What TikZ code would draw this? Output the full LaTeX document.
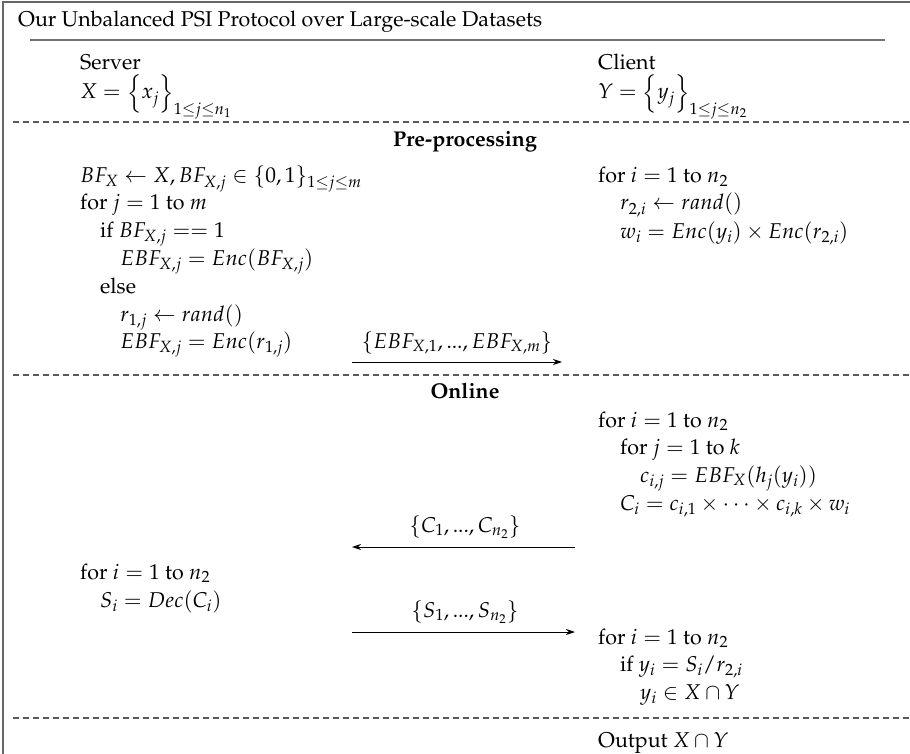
\documentclass[tikz,border=0pt]{standalone}
\usepackage[T1]{fontenc}
\usepackage{amsmath}
\usepackage{mathpazo}
\renewcommand{\rmdefault}{ppl}
\usetikzlibrary{arrows.meta}
\begin{document}
\begin{tikzpicture}[x=1pt,y=-1pt,
  lbl/.style={anchor=base west, inner sep=0pt, font=\fontsize{21.4}{25}\selectfont},
  mid/.style={anchor=base, inner sep=0pt, font=\fontsize{21.4}{25}\selectfont},
  frameline/.style={draw=black!60, line width=2pt},
  rule/.style={draw=black!55, line width=2.2pt},
  sep/.style={draw=black!65, line width=1.2pt, dash pattern=on 6pt off 4pt},
  msg/.style={draw=black, line width=1pt, -{Stealth[length=9pt,width=6pt]}}]
\useasboundingbox (0,0) rectangle (910,754);
% frame
\draw[frameline] (3,800) -- (3,2) -- (920,2);
% title
\node[lbl] (title) at (18,27) {Our Unbalanced PSI Protocol over Large-scale Datasets};
\draw[rule] (30,40) -- (885,40);
% parties
\node[lbl] (server) at (80,70) {Server};
\node[lbl] (xset) at (80,99) {$X=\smash{\Big\{x_j\Big\}_{1\le j\le n_1}}$};
\node[lbl] (client) at (598,70) {Client};
\node[lbl] (yset) at (598,99) {$Y=\smash{\Big\{y_j\Big\}_{1\le j\le n_2}}$};
\draw[sep] (13,122) -- (915,122);
% pre-processing
\node[mid] (pre) at (465,147) {\textbf{Pre-processing}};
\node[lbl] (s1) at (80,183) {$BF_X\leftarrow X, BF_{X,j}\in\{0,1\}_{1\le j\le m}$};
\node[lbl] (s2) at (80,210) {for $j=1$ to $m$};
\node[lbl] (s3) at (100,237) {if $BF_{X,j}==1$};
\node[lbl] (s4) at (120,265) {$EBF_{X,j}=Enc(BF_{X,j})$};
\node[lbl] (s5) at (100,293) {else};
\node[lbl] (s6) at (120,321) {$r_{1,j}\leftarrow rand()$};
\node[lbl] (s7) at (120,348) {$EBF_{X,j}=Enc(r_{1,j})$};
\node[lbl] (c1) at (598,183) {for $i=1$ to $n_2$};
\node[lbl] (c2) at (620,210) {$r_{2,i}\leftarrow rand()$};
\node[lbl] (c3) at (620,238) {$w_i=Enc(y_i)\times Enc(r_{2,i})$};
\coordinate (a1s) at (352,362);
\coordinate (a1e) at (562,362);
\draw[msg] (a1s) -- (a1e);
\node[mid] (m1) at (457,348) {$\{EBF_{X,1},...,EBF_{X,m}\}$};
\draw[sep] (13,375) -- (915,375);
% online
\node[mid] (onl) at (465,398) {\textbf{Online}};
\node[lbl] (o1) at (598,427) {for $i=1$ to $n_2$};
\node[lbl] (o2) at (620,454) {for $j=1$ to $k$};
\node[lbl] (o3) at (640,482) {$\smash[b]{c_{i,j}=EBF_X(h_j(y_i))}$};
\node[lbl] (o4) at (620,510) {$C_i=c_{i,1}\times\cdots\times c_{i,k}\times w_i$};
\coordinate (a2s) at (575,547);
\coordinate (a2e) at (352,547);
\draw[msg] (a2s) -- (a2e);
\node[mid] (m2) at (465,532) {$\{C_1,...,C_{n_2}\}$};
\node[lbl] (d1) at (80,579) {for $i=1$ to $n_2$};
\node[lbl] (d2) at (100,607) {$S_i=Dec(C_i)$};
\coordinate (a3s) at (352,632);
\coordinate (a3e) at (575,632);
\draw[msg] (a3s) -- (a3e);
\node[mid] (m3) at (465,617) {$\{S_1,...,S_{n_2}\}$};
\node[lbl] (f1) at (598,644) {for $i=1$ to $n_2$};
\node[lbl] (f2) at (620,671) {if $y_i=S_i/r_{2,i}$};
\node[lbl] (f3) at (640,699) {$y_i\in X\cap Y$};
\draw[sep] (13,718) -- (915,718);
\node[lbl] (out) at (598,747) {Output $X\cap Y$};
\end{tikzpicture}
\end{document}
